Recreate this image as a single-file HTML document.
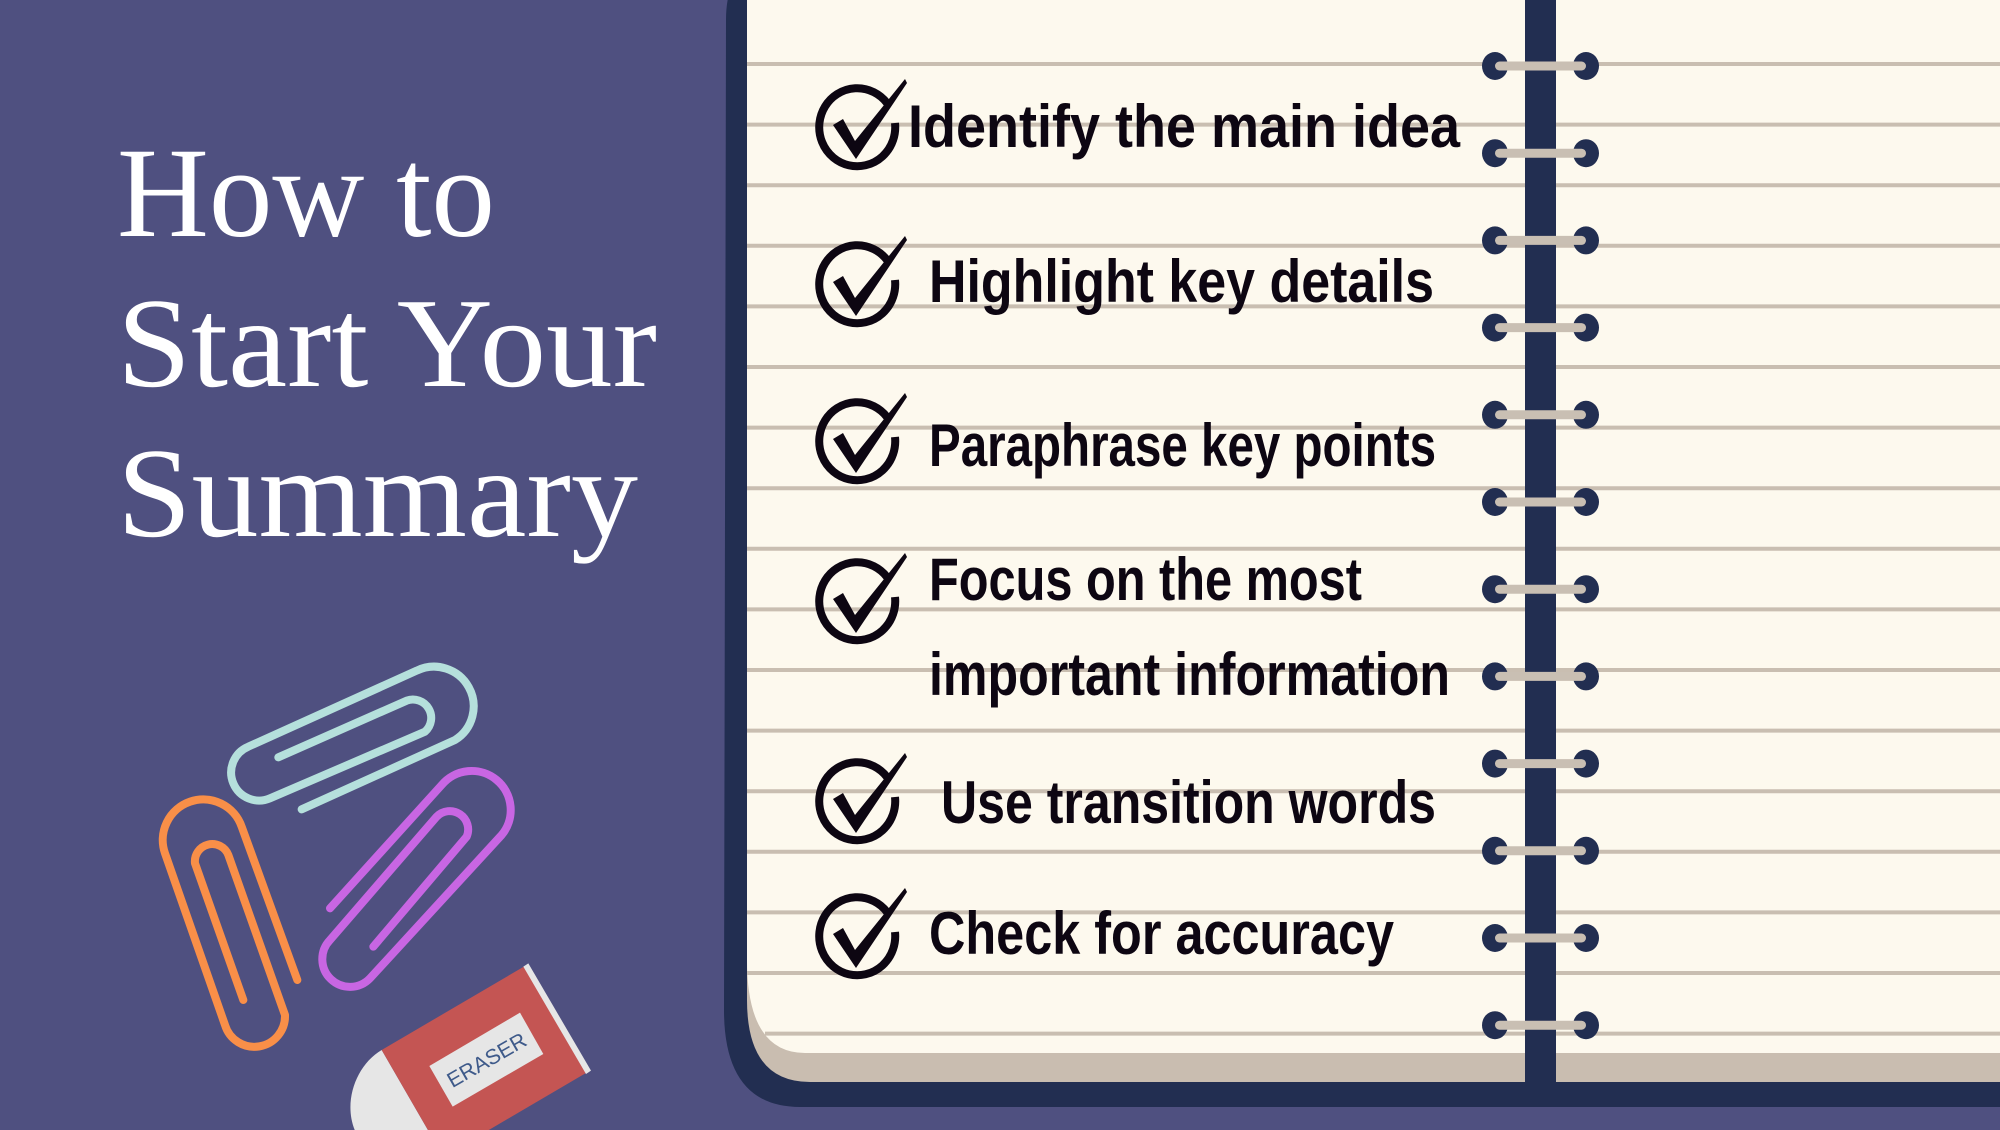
<!DOCTYPE html>
<html><head><meta charset="utf-8"><style>
html,body{margin:0;padding:0;background:#4f5080;}
svg{display:block}
.hw{font-family:"Liberation Sans Narrow","Liberation Sans",sans-serif;font-weight:bold;fill:#0d0612;}
.ttl{font-family:"Liberation Serif",serif;fill:#ffffff;}
</style></head><body>
<svg width="2000" height="1130" viewBox="0 0 2000 1130" xmlns="http://www.w3.org/2000/svg">
<rect x="0" y="0" width="2000" height="1130" fill="#4f5080"/>

<g>
<text class="ttl" x="117" y="236" font-size="128" textLength="378" lengthAdjust="spacingAndGlyphs">How to</text>
<text class="ttl" x="117" y="386" font-size="128" textLength="540" lengthAdjust="spacingAndGlyphs">Start Your</text>
<text class="ttl" x="117" y="536" font-size="128" textLength="521" lengthAdjust="spacingAndGlyphs">Summary</text>
</g>

<g transform="translate(140,650) scale(0.33333)" fill="none" stroke-width="24" stroke-linecap="round" stroke-linejoin="round">
<path d="M415,322 L800,152 A55 55 0 0 1 855,245 L390,445 A84 84 0 0 1 325,290 L830,62 A119 119 0 0 1 945,270 L485,478" stroke="#b5e0dc"/>
<path d="M310,1050 L165,640 A52 52 0 0 1 265,615 L435,1095 A92 92 0 0 1 255,1125 L75,610 A116 116 0 0 1 305,530 L472,990" stroke="#f98f48"/>
<path d="M570,775 L905,405 A117 117 0 0 1 1085,555 L690,985 A83 83 0 0 1 570,870 L890,500 A55 55 0 0 1 980,560 L700,890" stroke="#c866e3"/>
<g stroke="none">
<path d="M725,1200 C640,1250 600,1380 660,1470 L700,1560 L910,1520 Z" fill="#e6e6e6"/>
<polygon points="725,1200 1160,945 1345,1265 910,1520" fill="#c45553"/>
<polygon points="1150,950 1165,940 1353,1262 1338,1272" fill="#e6e6e6"/>
<polygon points="868,1248 1140,1088 1210,1212 938,1370" fill="#e6e6e6"/>
<text x="1040" y="1252" font-size="64" fill="#3e5a8a" text-anchor="middle" transform="rotate(-30 1040 1230)" font-family="Liberation Sans Narrow, Liberation Sans, sans-serif">ERASER</text>
</g>
</g>

<g>
<path d="M775,-40 L2000,-40 L2000,1107 L800,1107 Q724,1107 724,1010 L726,20 Q726,-40 775,-40 Z" fill="#222e51"/>
<path d="M747,-10 L2000,-10 L2000,1082 L810,1082 Q747,1082 747,1000 Z" fill="#c9bdb0"/>
<path d="M747,-10 L2000,-10 L2000,1053 L805,1053 Q747,1053 747,960 Z" fill="#fdf9ee"/>
<g id="lines" stroke="#c9beb1" stroke-width="4"></g>
<rect x="1525" y="-10" width="31" height="1093" fill="#222e51"/>
<g id="rings"></g>
</g>

<g id="items"></g>
</svg>
<script>
var NS="http://www.w3.org/2000/svg";
var lines=document.getElementById('lines');
for(var i=0;i<17;i++){
  var y=64+60.6*i;
  var l=document.createElementNS(NS,'line');
  l.setAttribute('x1', i==16?765:747);l.setAttribute('x2',2000);
  l.setAttribute('y1',y);l.setAttribute('y2',y);
  
  
  lines.appendChild(l);
}
var rings=document.getElementById('rings');
for(var j=0;j<12;j++){
  var ry=66+87.2*j;
  var g=document.createElementNS(NS,'g');
  
  
  g.innerHTML='<ellipse cx="1495" cy="'+ry+'" rx="13" ry="14" fill="#222e51"/><ellipse cx="1586" cy="'+ry+'" rx="13" ry="14" fill="#222e51"/><rect x="1495" y="'+(ry-4.5)+'" width="91" height="9" rx="4.5" fill="#c9bfb3"/>';
  rings.appendChild(g);
}
var items=document.getElementById('items');
var checks=[131,288,445,605,805,940];
checks.forEach(function(cy){
  var g=document.createElementNS(NS,'g');
  
  
  g.setAttribute('transform','translate(857,'+cy+')');
  g.innerHTML='<path d="M30,-28 A38 39 0 1 0 38,-8" fill="none" stroke="#0d0612" stroke-width="8"/><polygon points="-24,-6 -14,-12 -2,10 48,-52 50,-48 -1,28" fill="#0d0612"/>';
  items.appendChild(g);
});
var texts=[["Identify the main idea",908,147,552],["Highlight key details",929,302,505],["Paraphrase key points",929,466,507],["Focus on the most",929,600,433],["important information",929,695,521],["Use transition words",941,823,495],["Check for accuracy",929,954,465]];
texts.forEach(function(t){
  var e=document.createElementNS(NS,'text');
  e.setAttribute('class','hw');
  e.setAttribute('x',t[1]);e.setAttribute('y',t[2]);
  e.setAttribute('font-size','60');
  e.setAttribute('textLength',t[3]);
  e.setAttribute('lengthAdjust','spacingAndGlyphs');
  
  
  e.textContent=t[0];
  items.appendChild(e);
});
</script>
</body></html>
